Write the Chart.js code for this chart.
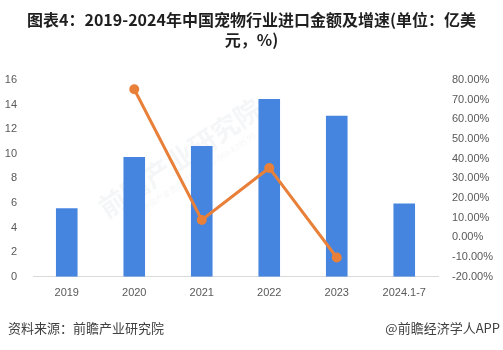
<!DOCTYPE html>
<html>
<head>
<meta charset="utf-8">
<script src="https://cdn.jsdelivr.net/npm/chart.js@4/dist/chart.umd.min.js"></script>
<style>
  html, body { margin: 0; padding: 0; background: #fff; }
  #wrap { position: relative; width: 503px; height: 350px; overflow: hidden; }
  #title {
    position: absolute; left: 0; top: 9px; width: 503px; text-align: center;
    font: bold 16px "Noto Sans CJK SC", sans-serif; line-height: 20px; color: #1f1f1f;
  }
  #cv { position: absolute; left: 0; top: 0; }
  .foot {
    position: absolute; top: 318px; font: 13px "Noto Sans CJK SC", sans-serif; color: #404040;
  }
</style>
</head>
<body>
<div id="wrap">
  <canvas id="cv" width="503" height="350"></canvas>
  <div id="title">图表4：2019-2024年中国宠物行业进口金额及增速(单位：亿美<br>元，%)</div>
  <div class="foot" style="left:8px;">资料来源：前瞻产业研究院</div>
  <div class="foot" style="right:3px;">@前瞻经济学人APP</div>
</div>
<script>
// Import value of China's pet industry (100 million USD) and year-on-year growth (%)
const categories = ['2019', '2020', '2021', '2022', '2023', '2024.1-7'];
const importValue = [5.58, 9.74, 10.64, 14.45, 13.09, 5.96];
const growthRate = [null, 75.3, 8.9, 35.3, -10.2, null];
const leftTicks = [0, 2, 4, 6, 8, 10, 12, 14, 16];
const rightTicks = [-20, -10, 0, 10, 20, 30, 40, 50, 60, 70, 80];

// Faint institute watermark behind the bars
const watermark = {
  id: 'watermark',
  beforeDatasetsDraw(chart) {
    const ctx = chart.ctx;
    ctx.save();
    ctx.translate(180, 158);
    ctx.rotate(-33.7 * Math.PI / 180);
    ctx.fillStyle = 'rgba(120,130,145,0.07)';
    ctx.font = 'bold 27px "Noto Sans CJK SC", sans-serif';
    ctx.textAlign = 'center';
    ctx.textBaseline = 'middle';
    ctx.fillText('前瞻产业研究院', 0, 0);
    ctx.font = '8px "Noto Sans CJK SC", sans-serif';
    ctx.fillText('中国产业咨询领导者 400-068-8395 99', 8, 22);
    ctx.restore();
  }
};

const tickFont = { family: '"Liberation Sans", "DejaVu Sans", sans-serif', size: 11 };

new Chart(document.getElementById('cv'), {
  data: {
    labels: categories,
    datasets: [
      {
        type: 'line',
        data: growthRate,
        yAxisID: 'y1',
        borderColor: '#E8803A',
        backgroundColor: '#E8803A',
        borderWidth: 3,
        pointRadius: 3.5,
        pointHoverRadius: 3.5,
        tension: 0,
        spanGaps: false,
        order: 0
      },
      {
        type: 'bar',
        data: importValue,
        yAxisID: 'y',
        backgroundColor: '#4585E0',
        categoryPercentage: 1,
        barPercentage: 0.32,
        order: 1
      }
    ]
  },
  options: {
    responsive: false,
    animation: false,
    layout: { padding: { top: 80, bottom: 48, left: 0, right: 0 } },
    plugins: { legend: { display: false }, tooltip: { enabled: false } },
    scales: {
      x: {
        grid: { display: false },
        border: { color: '#D9D9D9', width: 1 },
        ticks: { color: '#595959', font: tickFont, padding: 2 }
      },
      y: {
        position: 'left',
        min: 0, max: 16,
        afterBuildTicks(axis) { axis.ticks = leftTicks.map(v => ({ value: v })); },
        afterFit(axis) { axis.width = 33; },
        grid: { display: false },
        border: { display: false },
        ticks: { color: '#595959', font: tickFont, padding: 8 }
      },
      y1: {
        position: 'right',
        min: -20, max: 80,
        afterBuildTicks(axis) { axis.ticks = rightTicks.map(v => ({ value: v })); },
        afterFit(axis) { axis.width = 65; },
        grid: { display: false },
        border: { display: false },
        ticks: {
          color: '#595959', font: tickFont, padding: 6,
          callback: v => v.toFixed(2) + '%'
        }
      }
    }
  },
  plugins: [watermark]
});
</script>
</body>
</html>
